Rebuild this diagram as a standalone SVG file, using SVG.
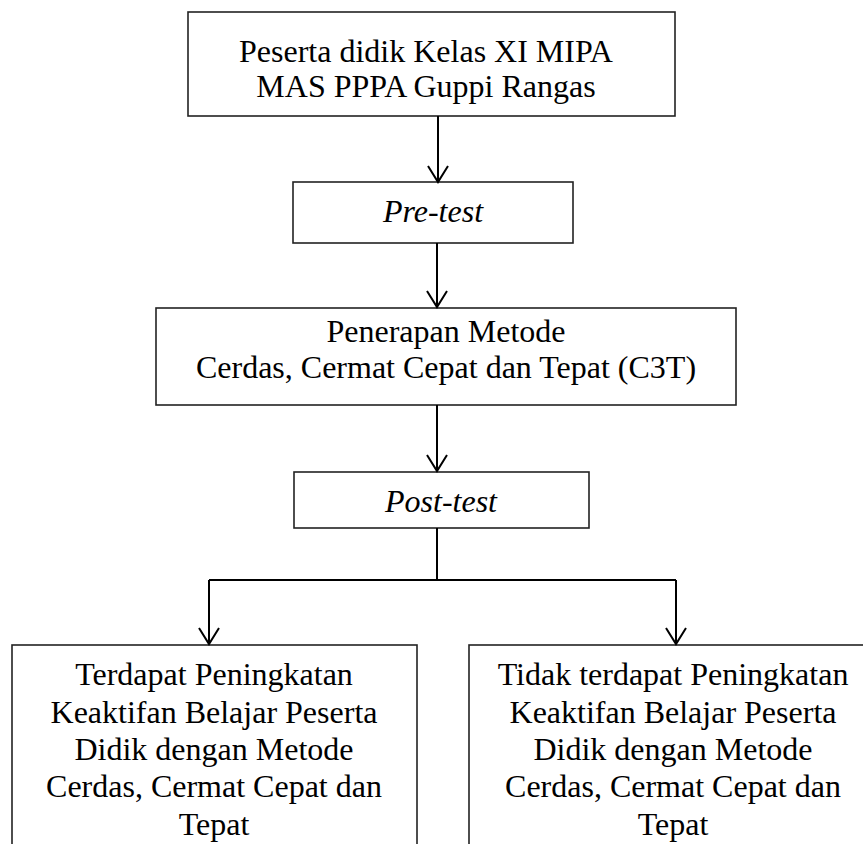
<svg xmlns="http://www.w3.org/2000/svg" width="863" height="844" viewBox="0 0 863 844">
<style>
.box{fill:#fff;stroke:#222;stroke-width:1.6}
.t{font-family:"Liberation Serif","Times New Roman",serif;font-size:32px;fill:#000;text-anchor:middle}
.i{font-style:italic}
.c{fill:none;stroke:#000;stroke-width:2}
</style>
<defs>
<marker id="ah" markerUnits="userSpaceOnUse" markerWidth="20" markerHeight="24" refX="17" refY="11" orient="auto" viewBox="0 0 20 22">
<path d="M1,1 L17,11 L1,21" fill="none" stroke="#000" stroke-width="2"/>
</marker>
</defs>
<g id="n1">
<rect class="box" x="188" y="12" width="487" height="104"/>
<text class="t" x="426" y="62">Peserta didik Kelas XI MIPA</text>
<text class="t" x="426" y="97">MAS PPPA Guppi Rangas</text>
</g>
<g id="n2">
<rect class="box" x="293" y="182" width="280" height="61"/>
<text class="t i" x="433" y="222">Pre-test</text>
</g>
<g id="n3">
<rect class="box" x="156" y="308" width="580" height="97"/>
<text class="t" x="446" y="342">Penerapan Metode</text>
<text class="t" x="446" y="378">Cerdas, Cermat Cepat dan Tepat (C3T)</text>
</g>
<g id="n4">
<rect class="box" x="294" y="472" width="295" height="56"/>
<text class="t i" x="441" y="512">Post-test</text>
</g>
<g id="n5">
<rect class="box" x="12" y="645" width="405" height="220"/>
<text class="t" x="214" y="685">Terdapat Peningkatan</text>
<text class="t" x="214" y="723">Keaktifan Belajar Peserta</text>
<text class="t" x="214" y="760">Didik dengan Metode</text>
<text class="t" x="214" y="797">Cerdas, Cermat Cepat dan</text>
<text class="t" x="214" y="835">Tepat</text>
</g>
<g id="n6">
<rect class="box" x="469" y="645" width="420" height="220"/>
<text class="t" x="673" y="685">Tidak terdapat Peningkatan</text>
<text class="t" x="673" y="723">Keaktifan Belajar Peserta</text>
<text class="t" x="673" y="760">Didik dengan Metode</text>
<text class="t" x="673" y="797">Cerdas, Cermat Cepat dan</text>
<text class="t" x="673" y="835">Tepat</text>
</g>
<g id="connectors">
<line class="c" x1="438" y1="116" x2="438" y2="182" marker-end="url(#ah)"/>
<line class="c" x1="437" y1="243" x2="437" y2="307" marker-end="url(#ah)"/>
<line class="c" x1="437" y1="405" x2="437" y2="471" marker-end="url(#ah)"/>
<polyline class="c" points="437,528 437,580"/>
<polyline class="c" points="209,580 676,580"/>
<line class="c" x1="209" y1="580" x2="209" y2="644" marker-end="url(#ah)"/>
<line class="c" x1="676" y1="580" x2="676" y2="644" marker-end="url(#ah)"/>
</g>
</svg>
